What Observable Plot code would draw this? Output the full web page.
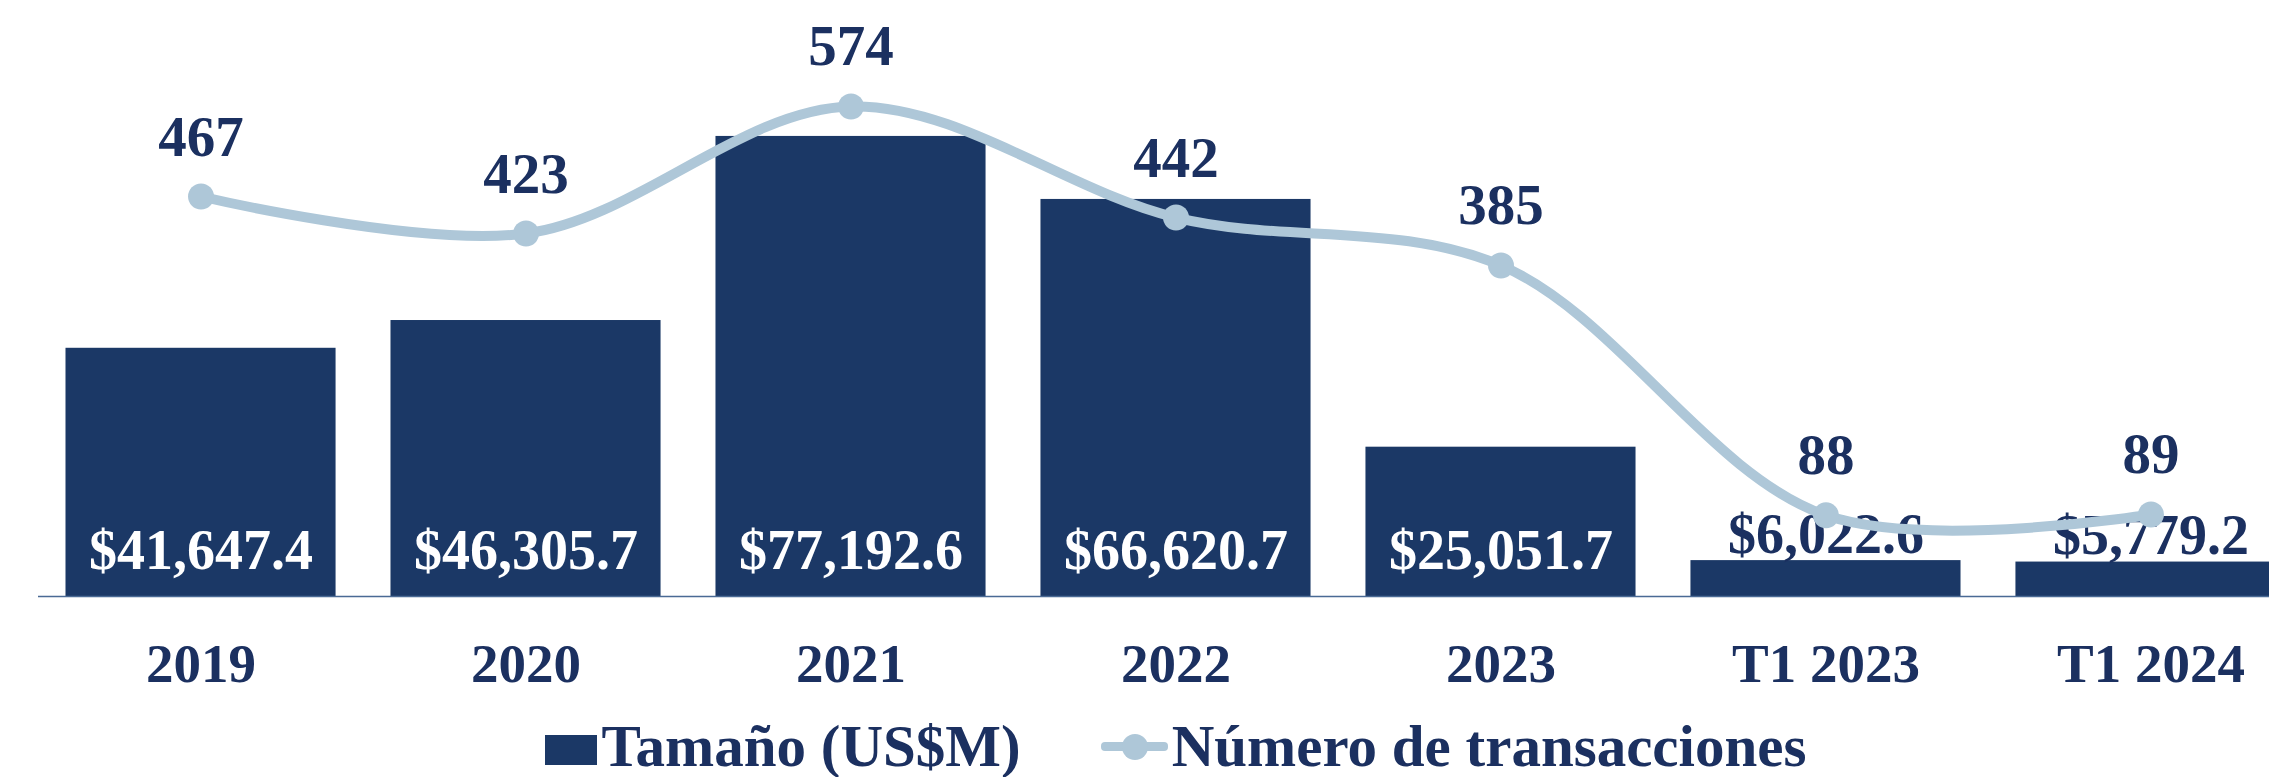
<!DOCTYPE html>
<html>
<head>
<meta charset="utf-8">
<script src="https://cdn.jsdelivr.net/npm/d3@7"></script>
<script src="https://cdn.jsdelivr.net/npm/@observablehq/plot@0.6"></script>
<style>
  html, body { margin: 0; padding: 0; background: #fff; overflow: hidden; }
  #wrap { width: 2351px; }
  #wrap svg { max-width: none !important; display: block; }
  .legend { width: 2351px; height: 72px; display: flex; justify-content: center; align-items: flex-start;
    font-family: "Liberation Serif", serif; font-weight: bold; font-size: 59px; color: #1B3060; line-height: 0.88; }
  .item { display: flex; align-items: center; margin-top: 16px; }
  .sw-bar { width: 52px; height: 30px; background: #1B3866; margin-right: 5px; margin-top: 6px; }
  .sw-line { position: relative; width: 67px; height: 26px; margin-right: 4px; }
  .sw-line::before { content: ""; position: absolute; left: 0; right: 0; top: 8px; height: 9px; background: #AEC7D8; border-radius: 4px; }
  .sw-line::after { content: ""; position: absolute; left: 21px; top: 0; width: 26px; height: 26px; border-radius: 50%; background: #AEC7D8; }
</style>
</head>
<body>
<div id="wrap"></div>
<script>
const categories = ["2019", "2020", "2021", "2022", "2023", "T1 2023", "T1 2024"];
const tamano = [41647.4, 46305.7, 77192.6, 66620.7, 25051.7, 6022.6, 5779.2];
const transacciones = [467, 423, 574, 442, 385, 88, 89];
const seriesNames = ["Tamaño (US$M)", "Número de transacciones"];

const navy = "#1B3060";
const barColor = "#1B3866";
const lineColor = "#AEC7D8";
const font = "'Liberation Serif', serif";

const data = categories.map((c, i) => ({cat: c, tam: tamano[i], tr: transacciones[i]}));
// secondary axis (transactions 0–700) mapped onto the primary value axis
const y2 = d3.scaleLinear([0, 700], [1200, 100000]);
const fmt = v => "$" + d3.format(",.1f")(v);
const fitsInside = d => d.tam >= 20000;

const chart = Plot.plot({
  width: 2351,
  height: 705,
  marginLeft: 38,
  marginRight: 38,
  marginTop: 0,
  marginBottom: 109,
  style: {fontFamily: font, color: navy, background: "#fff", maxWidth: "none"},
  x: {domain: categories, paddingInner: 0.169, paddingOuter: 0.0846, round: false, label: null},
  y: {domain: [0, 100000], axis: null},
  marks: [
    Plot.barY(data, {x: "cat", y: "tam", fill: barColor}),
    Plot.ruleY([0], {stroke: "#4A6A95", strokeWidth: 1.5}),
    Plot.text(data.filter(fitsInside), {x: "cat", y: 0, text: d => fmt(d.tam), dy: -28, lineAnchor: "bottom",
      fill: "#fff", fontSize: 56, fontWeight: "bold"}),
    Plot.text(data.filter(d => !fitsInside(d)), {x: "cat", y: "tam", text: d => fmt(d.tam), dy: -8, lineAnchor: "bottom",
      fill: navy, fontSize: 56, fontWeight: "bold"}),
    Plot.line(data, {x: "cat", y: d => y2(d.tr), curve: "catmull-rom", stroke: lineColor, strokeWidth: 10}),
    Plot.dot(data, {x: "cat", y: d => y2(d.tr), r: 13, fill: lineColor, stroke: "none"}),
    Plot.text(data, {x: "cat", y: d => y2(d.tr), text: "tr", dy: -41, lineAnchor: "bottom",
      fill: navy, fontSize: 57, fontWeight: "bold"}),
    Plot.axisX({tickSize: 0, tickPadding: 46, fontSize: 55, fontWeight: "bold", fill: navy, label: null})
  ]
});

const wrap = document.getElementById("wrap");
wrap.appendChild(chart);
const legend = document.createElement("div");
legend.className = "legend";
legend.innerHTML = `
  <div class="item"><div class="sw-bar"></div><span>${seriesNames[0]}</span></div>
  <div class="item" style="margin-left:80px"><div class="sw-line"></div><span>${seriesNames[1]}</span></div>`;
wrap.appendChild(legend);
</script>
</body>
</html>
